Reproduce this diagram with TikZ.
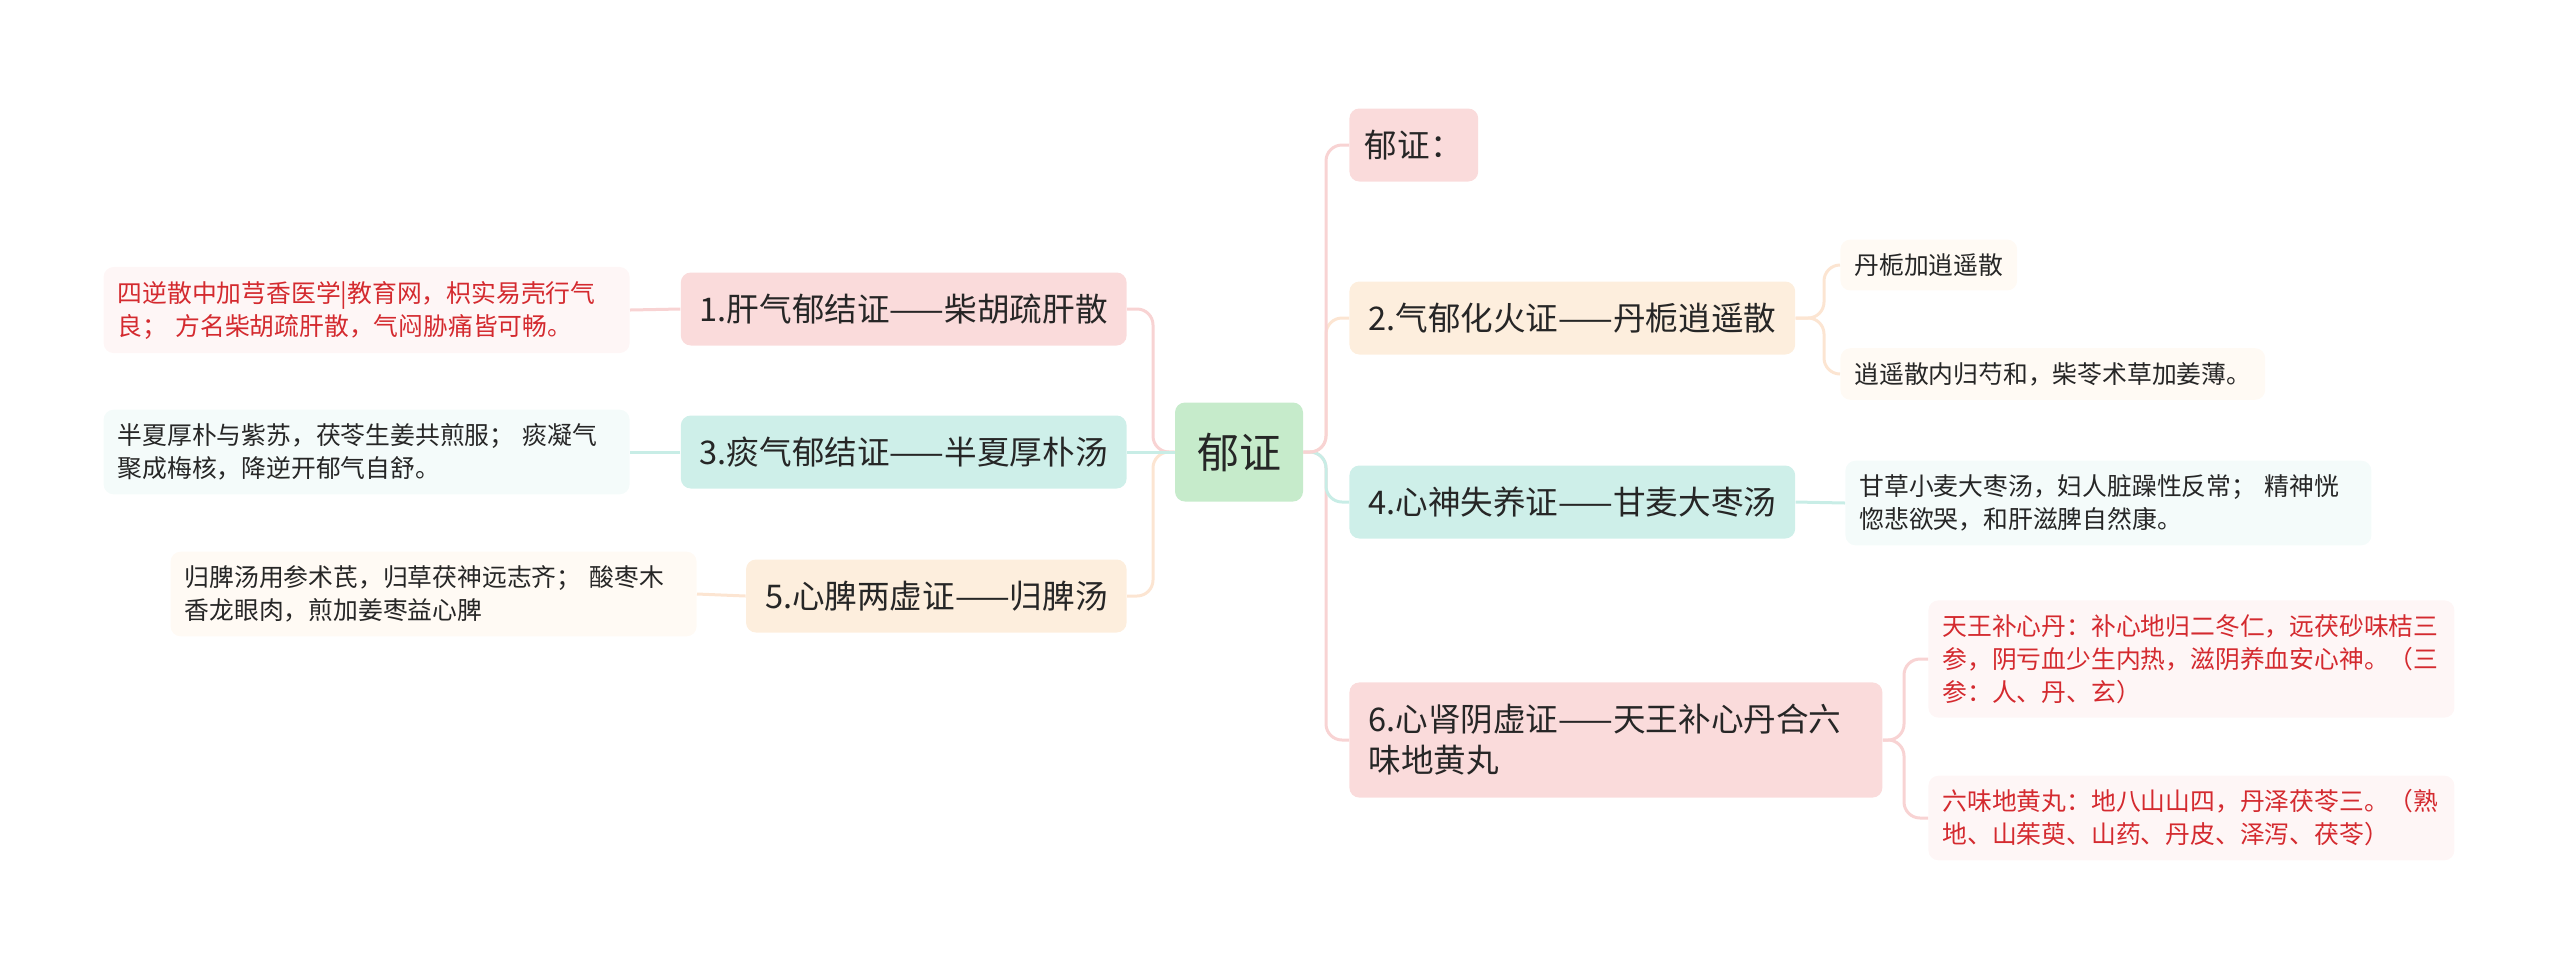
\documentclass[tikz,border=0pt]{standalone}
\usepackage{fontspec}
\setmainfont{Noto Sans CJK SC}
\usepackage{xcolor}
\usetikzlibrary{positioning}

\definecolor{textdark}{HTML}{262626}
\definecolor{redtext}{HTML}{D42A2F}
\definecolor{rootfill}{HTML}{C6EBCB}
\definecolor{pinkfill}{HTML}{FADBDB}
\definecolor{peachfill}{HTML}{FDEEDD}
\definecolor{tealfill}{HTML}{CEEFE9}
\definecolor{pinkleaf}{HTML}{FEF6F6}
\definecolor{peachleaf}{HTML}{FFFAF4}
\definecolor{tealleaf}{HTML}{F4FBFA}
\definecolor{pinkline}{HTML}{F8D3D3}
\definecolor{peachline}{HTML}{FCE5D2}
\definecolor{tealline}{HTML}{C8EDE6}

\begin{document}
\begin{tikzpicture}[x=0.5pt,y=-0.5pt,
    root/.style={fill=rootfill, rounded corners=5pt, minimum width=64pt, minimum height=49.5pt,
        inner sep=0pt, text=textdark, font=\fontsize{21}{25}\selectfont},
    topic/.style={rounded corners=5pt, inner xsep=9.5pt, inner ysep=0pt, minimum height=36.5pt,
        text=textdark, align=left, font=\fontsize{16.3}{20.5}\selectfont},
    leaf/.style={rounded corners=5pt, inner xsep=7pt, inner ysep=7pt, align=left,
        text=textdark, font=\fontsize{12.4}{16.5}\selectfont},
    wide/.style={text width=249pt},
    conn/.style={line width=1.5pt, rounded corners=8pt}]

    \useasboundingbox (0,0) rectangle (2560,971);

    % Bus coordinates
    \coordinate (lbus) at (1153,452);
    \coordinate (rbus) at (1326,452);
    \coordinate (b2) at (1824,318);
    \coordinate (b6) at (1904,740);

    % Root
    \node[root] (yz) at (1239,452) {郁证};

    % Left topics
    \node[topic, fill=pinkfill, anchor=east] (l1) at (1127,309) {1.肝气郁结证——柴胡疏肝散};
    \node[topic, fill=tealfill, anchor=east] (l3) at (1127,452) {3.痰气郁结证——半夏厚朴汤};
    \node[topic, fill=peachfill, anchor=east] (l5) at (1127,596) {5.心脾两虚证——归脾汤};

    % Left leaves
    \node[leaf, wide, fill=pinkleaf, text=redtext, anchor=east] (l1a) at (630,310)
        {四逆散中加芎香医学|教育网，枳实易壳行气\\良； 方名柴胡疏肝散，气闷胁痛皆可畅。};
    \node[leaf, wide, fill=tealleaf, anchor=east] (l3a) at (630,452)
        {半夏厚朴与紫苏，茯苓生姜共煎服； 痰凝气\\聚成梅核，降逆开郁气自舒。};
    \node[leaf, wide, fill=peachleaf, anchor=east] (l5a) at (697,594)
        {归脾汤用参术芪，归草茯神远志齐； 酸枣木\\香龙眼肉，煎加姜枣益心脾};

    % Right topics
    \node[topic, fill=pinkfill, anchor=west, inner xsep=7.75pt] (r0) at (1349,145) {郁证：};
    \node[topic, fill=peachfill, anchor=west] (r2) at (1349,318) {2.气郁化火证——丹栀逍遥散};
    \node[topic, fill=tealfill, anchor=west] (r4) at (1349,502) {4.心神失养证——甘麦大枣汤};
    \node[topic, fill=pinkfill, anchor=west, text width=247.5pt, inner ysep=11pt] (r6) at (1349,740)
        {6.心肾阴虚证——天王补心丹合六\\味地黄丸};

    % Right leaves
    \node[leaf, fill=peachleaf, anchor=west] (r2a) at (1840,265) {丹栀加逍遥散};
    \node[leaf, fill=peachleaf, anchor=west] (r2b) at (1840,374) {逍遥散内归芍和，柴苓术草加姜薄。};
    \node[leaf, wide, fill=tealleaf, anchor=west] (r4a) at (1845,503)
        {甘草小麦大枣汤，妇人脏躁性反常； 精神恍\\惚悲欲哭，和肝滋脾自然康。};
    \node[leaf, wide, fill=pinkleaf, text=redtext, anchor=west] (r6a) at (1928,659)
        {天王补心丹：补心地归二冬仁，远茯砂味桔三\\参，阴亏血少生内热，滋阴养血安心神。（三\\参：人、丹、玄）};
    \node[leaf, wide, fill=pinkleaf, text=redtext, anchor=west] (r6b) at (1928,818)
        {六味地黄丸：地八山山四，丹泽茯苓三。（熟\\地、山茱萸、山药、丹皮、泽泻、茯苓）};

    % Connectors root -> topics
    \draw[conn, peachline] (yz.west) -- (lbus) |- (l5.east);
    \draw[conn, pinkline] (yz.west) -- (lbus) |- (l1.east);
    \draw[conn, tealline] (yz.west) -- (l3.east);
    \draw[conn, pinkline] (yz.east) -- (rbus) |- (r6.west);
    \draw[conn, tealline] (yz.east) -- (rbus) |- (r4.west);
    \draw[conn, peachline] (yz.east) -- (rbus) |- (r2.west);
    \draw[conn, pinkline] (yz.east) -- (rbus) |- (r0.west);

    % Connectors topics -> leaves
    \draw[conn, pinkline] (l1.west) -- (l1a.east);
    \draw[conn, tealline] (l3.west) -- (l3a.east);
    \draw[conn, peachline] (l5.west) -- (l5a.east);
    \draw[conn, peachline] (r2.east) -- (b2) |- (r2a.west);
    \draw[conn, peachline] (r2.east) -- (b2) |- (r2b.west);
    \draw[conn, tealline] (r4.east) -- (r4a.west);
    \draw[conn, pinkline] (r6.east) -- (b6) |- (r6a.west);
    \draw[conn, pinkline] (r6.east) -- (b6) |- (r6b.west);

\end{tikzpicture}
\end{document}
